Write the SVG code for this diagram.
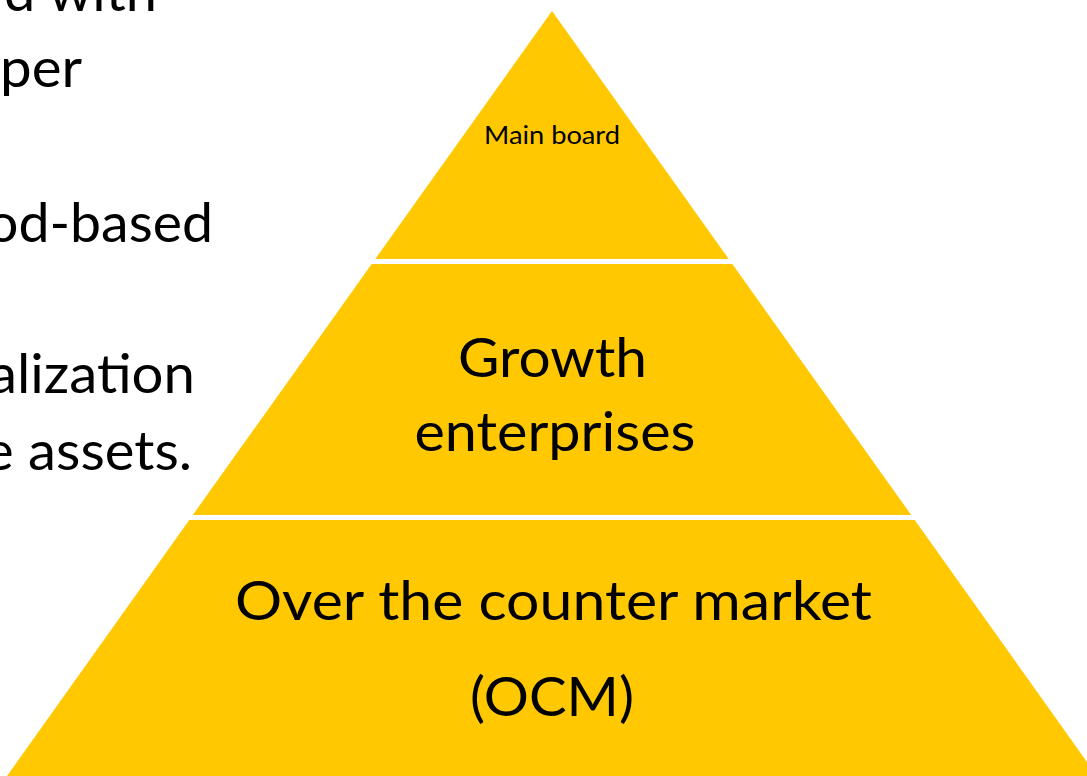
<svg xmlns="http://www.w3.org/2000/svg" width="1087" height="776" viewBox="0 0 1087 776">
  <style>
    .tier { fill: #FFC800; }
    .t { font-family: Lato, "Open Sans", "Liberation Sans", sans-serif; fill: #000000; }
    .big { font-size: 54px; }
    .small { font-size: 25px; }
    .side { font-size: 54px; text-anchor: end; }
    .c { text-anchor: middle; }
  </style>
  <rect x="0" y="0" width="1087" height="776" fill="#FFFFFF"/>
  <g id="side-text">
    <text class="t side" x="157" y="11" textLength="153" lengthAdjust="spacingAndGlyphs">d with</text>
    <text class="t side" x="82" y="87" textLength="82" lengthAdjust="spacingAndGlyphs">per</text>
    <text class="t side" x="213" y="242" textLength="226" lengthAdjust="spacingAndGlyphs">od-based</text>
    <text class="t side" x="195" y="393" textLength="206" lengthAdjust="spacingAndGlyphs">alization</text>
    <text class="t side" x="192" y="470" textLength="208" lengthAdjust="spacingAndGlyphs">e assets.</text>
  </g>
  <g id="main-board">
    <polygon class="tier" points="552,11 728.7,259 375.3,259"/>
    <text class="t small c" x="552" y="144" textLength="136" lengthAdjust="spacingAndGlyphs">Main board</text>
  </g>
  <g id="growth-enterprises">
    <polygon class="tier" points="371.7,264 732.3,264 911.2,515 192.8,515"/>
    <text class="t big c" x="552.5" y="377" textLength="189" lengthAdjust="spacingAndGlyphs">Growth</text>
    <text class="t big c" x="555" y="451" textLength="281" lengthAdjust="spacingAndGlyphs">enterprises</text>
  </g>
  <g id="ocm">
    <polygon class="tier" points="189.3,520 914.7,520 1097,776 7,776"/>
    <text class="t big c" x="553.5" y="620" textLength="637" lengthAdjust="spacingAndGlyphs">Over the counter market</text>
    <text class="t big c" x="552" y="716" textLength="164" lengthAdjust="spacingAndGlyphs">(OCM)</text>
  </g>
  <g id="connectors"></g>
</svg>
